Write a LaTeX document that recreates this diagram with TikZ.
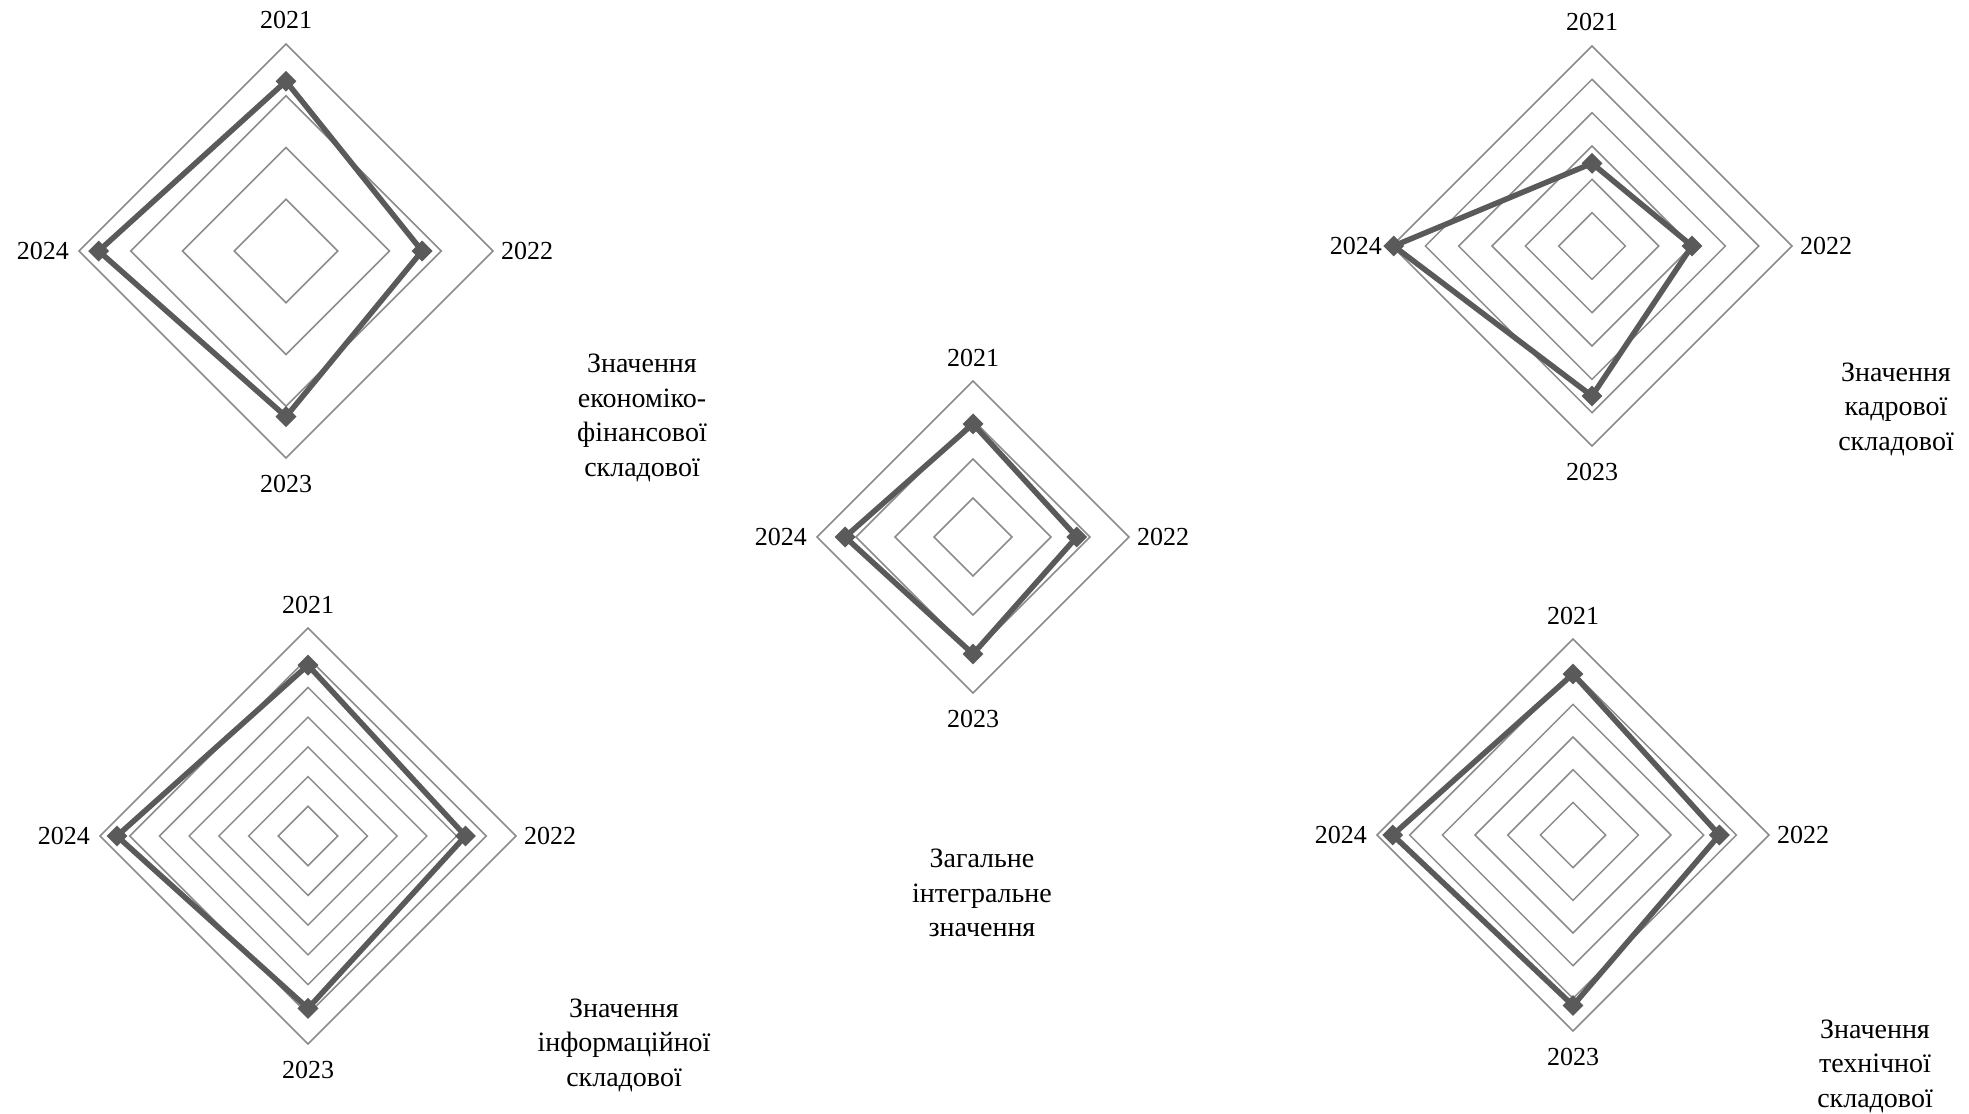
\documentclass[tikz,border=0pt]{standalone}
\usepackage{fontspec}
\setmainfont{Liberation Serif}
\usetikzlibrary{shapes.geometric}
\definecolor{gridgray}{HTML}{8C8C8C}
\definecolor{seriesgray}{HTML}{5A5A5A}

\tikzset{
  ring/.style={draw=gridgray, line width=1.5pt},
  series/.style={draw=seriesgray, line width=5.5pt, line join=round},
  marker/.style={shape=diamond, fill=seriesgray, draw=none, minimum width=21pt, minimum height=21pt, inner sep=0pt},
  yearlbl/.style={font=\fontsize{26}{30}\selectfont, inner sep=0pt, text=black},
  charttitle/.style={font=\fontsize{28}{34.5}\selectfont, align=center, inner sep=0pt, text=black}
}

% #1 name, #2 cx, #3 cy, #4 outer radius, #5 number of rings, #6-#9 values for 2021..2024
\newcommand{\radarchart}[9]{%
 \begin{scope}[shift={(#2,#3)}]
  \foreach \k in {1,...,#5}{%
   \pgfmathsetmacro{\rr}{#4*\k/#5}%
   \draw[ring] (0,-\rr) -- (\rr,0) -- (0,\rr) -- (-\rr,0) -- cycle;
  }
  \coordinate (#1-a) at (0,{-#4*#6/#5});
  \coordinate (#1-b) at ({#4*#7/#5},0);
  \coordinate (#1-c) at (0,{#4*#8/#5});
  \coordinate (#1-d) at ({-#4*#9/#5},0);
  \draw[series] (#1-a) -- (#1-b) -- (#1-c) -- (#1-d) -- cycle;
  \foreach \p in {a,b,c,d} \node[marker] (#1-m\p) at (#1-\p) {};
  \node[yearlbl, anchor=base]  (#1-y1) at (0,{-#4-15}) {2021};
  \node[yearlbl, anchor=west]  (#1-y2) at ({#4+8},0) {2022};
  \node[yearlbl, anchor=north] (#1-y3) at (0,{#4+17}) {2023};
  \node[yearlbl, anchor=east]  (#1-y4) at ({-#4-10},0) {2024};
 \end{scope}}

\begin{document}
\begin{tikzpicture}[x=1pt, y=-1pt]
  \fill[white] (0,0) rectangle (1969,1113);
  \useasboundingbox (0,0) rectangle (1969,1113);

  % economic-financial component
  \radarchart{ef}{286}{251}{207}{4}{3.28}{2.63}{3.2}{3.62}
  % personnel component
  \radarchart{hr}{1592}{246}{200}{6}{2.48}{3.0}{4.5}{5.95}
  % overall integral value
  \radarchart{ov}{973}{537}{156}{4}{2.9}{2.66}{3.0}{3.28}
  % information component
  \radarchart{inf}{308}{836}{208}{7}{5.75}{5.3}{5.8}{6.43}
  % technical component
  \radarchart{tc}{1573}{835}{196}{6}{4.93}{4.48}{5.22}{5.52}

  \node[charttitle] (t-ef)  at (642,418)  {Значення\\економіко-\\фінансової\\складової};
  \node[charttitle] (t-hr)  at (1896,409) {Значення\\кадрової\\складової};
  \node[charttitle] (t-ov)  at (982,893)  {Загальне\\інтегральне\\значення};
  \node[charttitle] (t-inf) at (624,1045) {Значення\\інформаційної\\складової};
  \node[charttitle] (t-tc)  at (1875,1066) {Значення\\технічної\\складової};
\end{tikzpicture}
\end{document}
